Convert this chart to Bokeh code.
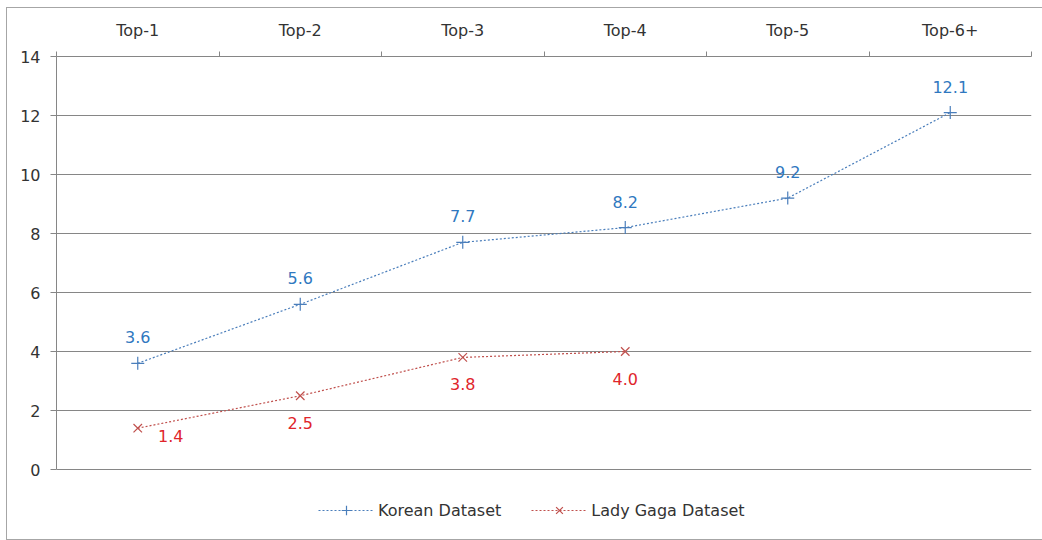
from bokeh.plotting import figure
from bokeh.models import (Range1d, LinearAxis, FixedTicker, Legend, LegendItem,
                          ColumnDataSource, CustomJSTickFormatter, InlineStyleSheet)
from bokeh.embed import file_html
from bokeh.resources import INLINE
from bokeh.core.properties import value

categories = ["Top-1", "Top-2", "Top-3", "Top-4", "Top-5", "Top-6+"]
korean = [3.6, 5.6, 7.7, 8.2, 9.2, 12.1]
gaga_categories = ["Top-1", "Top-2", "Top-3", "Top-4"]
gaga = [1.4, 2.5, 3.8, 4.0]
y_ticks = [0, 2, 4, 6, 8, 10, 12, 14]

FONT = "DejaVu Sans"
FS = "16px"
GRID = "#868686"
BLUE_LINE = "#4a7ebb"
BLUE_TEXT = "#2f78c0"
RED_LINE = "#c0504d"
RED_TEXT = "#e0252b"
TEXT = "#333333"

n = len(categories)
center = {c: i + 0.5 for i, c in enumerate(categories)}   # category slot centres

# layout (pixels): plot area top 56, value 0 at 469, canvas bottom 540
Y_MAX = 14
PX_TOP, PX_ZERO, PX_BOTTOM = 56, 469, 540
y_min = -(PX_BOTTOM - PX_ZERO) * Y_MAX / (PX_ZERO - PX_TOP)

p = figure(width=1042, height=540,
           x_range=Range1d(0, n), y_range=Range1d(y_min, Y_MAX),
           output_backend="svg", toolbar_location=None,
           x_axis_location=None, y_axis_location=None,
           min_border_left=56, min_border_right=11,
           min_border_top=PX_TOP, min_border_bottom=0)
p.outline_line_color = None
p.background_fill_color = "white"
p.border_fill_color = "white"
p.xgrid.visible = False

# left value axis
yaxis = LinearAxis(ticker=FixedTicker(ticks=y_ticks), bounds=(0, Y_MAX))
yaxis.axis_line_color = GRID
yaxis.major_tick_line_color = GRID
yaxis.major_tick_out = 6
yaxis.major_tick_in = 0
yaxis.minor_tick_line_color = None
yaxis.major_label_standoff = 10
yaxis.major_label_text_font = FONT
yaxis.major_label_text_font_size = FS
yaxis.major_label_text_color = TEXT
p.add_layout(yaxis, "left")

p.ygrid.ticker = FixedTicker(ticks=y_ticks)
p.ygrid.grid_line_color = GRID
p.ygrid.grid_line_width = 1

# top category axis, tick marks between categories
top = LinearAxis(ticker=FixedTicker(ticks=[center[c] for c in categories],
                                    minor_ticks=list(range(n + 1))),
                 formatter=CustomJSTickFormatter(args=dict(cats=categories),
                                                 code="return cats[Math.floor(tick)] || ''"))
top.axis_line_color = GRID
top.major_tick_line_color = None
top.major_tick_out = 0
top.major_tick_in = 0
top.minor_tick_line_color = GRID
top.minor_tick_out = 5
top.minor_tick_in = 0
top.major_label_standoff = 12
top.major_label_text_font = FONT
top.major_label_text_font_size = FS
top.major_label_text_color = TEXT
p.add_layout(top, "above")

def src(cats, vals):
    return ColumnDataSource(dict(x=[center[c] for c in cats], y=vals,
                                 label=[f"{v:.1f}" for v in vals]))

ks = src(categories, korean)
gs = src(gaga_categories, gaga)
gs_first = src(gaga_categories[:1], gaga[:1])
gs_rest = src(gaga_categories[1:], gaga[1:])

l1 = p.line("x", "y", source=ks, line_color=BLUE_LINE, line_dash="2 2", line_width=1.2)
s1 = p.scatter("x", "y", source=ks, marker="cross", size=13, line_color=BLUE_LINE, line_width=1.2)
l2 = p.line("x", "y", source=gs, line_color=RED_LINE, line_dash="2 2", line_width=1.2)
s2 = p.scatter("x", "y", source=gs, marker="x", size=12, line_color=RED_LINE, line_width=1.2)

common = dict(text="label", text_font=value(FONT), text_font_size=FS,
              text_align="center", text_baseline="middle")
p.text("x", "y", source=ks, text_color=BLUE_TEXT, y_offset=-26, **common)
p.text("x", "y", source=gs_rest, text_color=RED_TEXT, y_offset=27, **common)
p.text("x", "y", source=gs_first, text_color=RED_TEXT, x_offset=33, y_offset=8, **common)

legend = Legend(items=[LegendItem(label="Korean Dataset", renderers=[l1, s1]),
                       LegendItem(label="Lady Gaga Dataset", renderers=[l2, s2])],
                location=(262, 18), orientation="horizontal",
                padding=0, margin=0, border_line_color=None,
                background_fill_alpha=0, glyph_width=56, glyph_height=24,
                label_standoff=4, spacing=30,
                label_text_font=FONT, label_text_font_size=FS,
                label_text_color=TEXT)
p.add_layout(legend)

# outer chart border (only left, top, bottom edges are visible in the reference)
p.stylesheets = [InlineStyleSheet(css="""
:host { position: relative; overflow: hidden; }
:host::after {
  content: ''; position: absolute; left: 6px; top: 7px; right: -30px; bottom: 0px;
  border: 1px solid #a6a6a6; pointer-events: none;
}
""")]

open("out.html", "w").write(file_html(p, INLINE))
